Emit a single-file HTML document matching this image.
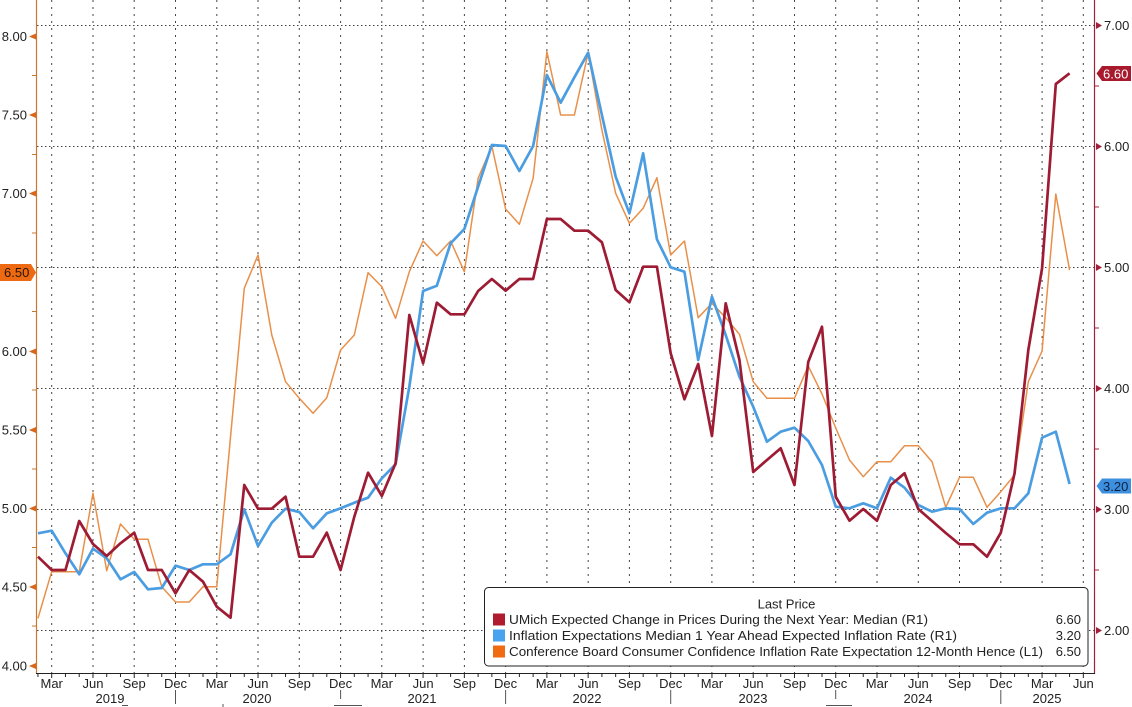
<!DOCTYPE html>
<html><head><meta charset="utf-8"><style>
html,body{margin:0;padding:0;background:#fff;}
svg{display:block;font-family:"Liberation Sans",sans-serif;}
</style></head><body>
<svg width="1132" height="707" viewBox="0 0 1132 707" xmlns="http://www.w3.org/2000/svg">
<rect width="1132" height="707" fill="#fff"/>
<!-- horizontal gridlines -->
<g stroke="#444" stroke-width="1" stroke-dasharray="1.5,2.5">
<line x1="37" y1="25.5" x2="1094" y2="25.5"/>
<line x1="37" y1="146.5" x2="1094" y2="146.5"/>
<line x1="37" y1="267.5" x2="1094" y2="267.5"/>
<line x1="37" y1="388.5" x2="1094" y2="388.5"/>
<line x1="37" y1="509.5" x2="1094" y2="509.5"/>
<line x1="37" y1="630.5" x2="1094" y2="630.5"/>
</g>
<!-- vertical gridlines -->
<g stroke="#444" stroke-width="1" stroke-dasharray="2,5">
<line x1="51.7" y1="0" x2="51.7" y2="673"/>
<line x1="93" y1="0" x2="93" y2="673"/>
<line x1="134.2" y1="0" x2="134.2" y2="673"/>
<line x1="175.5" y1="0" x2="175.5" y2="673"/>
<line x1="216.8" y1="0" x2="216.8" y2="673"/>
<line x1="258" y1="0" x2="258" y2="673"/>
<line x1="299.3" y1="0" x2="299.3" y2="673"/>
<line x1="340.6" y1="0" x2="340.6" y2="673"/>
<line x1="381.8" y1="0" x2="381.8" y2="673"/>
<line x1="423.1" y1="0" x2="423.1" y2="673"/>
<line x1="464.4" y1="0" x2="464.4" y2="673"/>
<line x1="505.6" y1="0" x2="505.6" y2="673"/>
<line x1="546.9" y1="0" x2="546.9" y2="673"/>
<line x1="588.2" y1="0" x2="588.2" y2="673"/>
<line x1="629.4" y1="0" x2="629.4" y2="673"/>
<line x1="670.7" y1="0" x2="670.7" y2="673"/>
<line x1="711.9" y1="0" x2="711.9" y2="673"/>
<line x1="753.2" y1="0" x2="753.2" y2="673"/>
<line x1="794.5" y1="0" x2="794.5" y2="673"/>
<line x1="835.7" y1="0" x2="835.7" y2="673"/>
<line x1="877" y1="0" x2="877" y2="673"/>
<line x1="918.3" y1="0" x2="918.3" y2="673"/>
<line x1="959.5" y1="0" x2="959.5" y2="673"/>
<line x1="1000.8" y1="0" x2="1000.8" y2="673"/>
<line x1="1042.1" y1="0" x2="1042.1" y2="673"/>
<line x1="1083.3" y1="0" x2="1083.3" y2="673"/>
</g>
<!-- series -->
<polyline fill="none" stroke="#e8904a" stroke-width="1.5" stroke-linejoin="round" points="37.95,618.3 51.7,571.7 65.46,571.7 79.21,571.7 92.97,493.3 106.72,570.7 120.48,524 134.23,539.3 147.99,539.3 161.74,586.7 175.5,602 189.25,602 203.01,586.7 216.76,586.7 230.52,437 244.27,288.3 258.03,255 271.78,335 285.54,381.7 299.29,398.3 313.05,413.3 326.8,397.7 340.56,350 354.31,335 368.07,272.7 381.82,286.7 395.58,318.3 409.33,271.7 423.09,241 436.84,255.7 450.6,241 464.35,271.7 478.11,178.3 491.86,146 505.62,209 519.37,224.3 533.13,178.3 546.88,51.7 560.64,115 574.39,115 588.15,52.7 601.9,130 615.66,193.3 629.41,223.3 643.17,208.3 656.92,177.7 670.68,255 684.43,241 698.19,317.7 711.94,303.3 725.7,317.7 739.45,334.3 753.21,381.7 766.96,398.3 780.72,398.3 794.47,398.3 808.23,366 821.98,394 835.74,428 849.49,460 863.25,476.7 877,461.7 890.76,461.7 904.51,445.7 918.27,445.7 932.02,461.7 945.78,507.3 959.53,477.3 973.29,477.3 987.04,507.3 1000.8,491.7 1014.55,475 1028.31,381.7 1042.06,351 1055.82,194 1069.57,270"/>
<polyline fill="none" stroke="#4b9de2" stroke-width="2.7" stroke-linejoin="round" points="37.95,533.3 51.7,530.7 65.46,553.3 79.21,574.3 92.97,548.7 106.72,558.3 120.48,579.3 134.23,572 147.99,589.3 161.74,588 175.5,565.7 189.25,570 203.01,564.3 216.76,564.3 230.52,554.3 244.27,509.3 258.03,546 271.78,522.7 285.54,508.7 299.29,512 313.05,528.3 326.8,513.3 340.56,508.3 354.31,502.7 368.07,497.7 381.82,478.3 395.58,464.3 409.33,386.7 423.09,291 436.84,285.7 450.6,243.3 464.35,229 478.11,186.7 491.86,145 505.62,146 519.37,171 533.13,146 546.88,75 560.64,102.7 574.39,77.3 588.15,52.7 601.9,115 615.66,176.7 629.41,213.3 643.17,153.3 656.92,239.3 670.68,267.3 684.43,271.7 698.19,360 711.94,296.7 725.7,335 739.45,376.7 753.21,406.7 766.96,441.7 780.72,431.7 794.47,427.7 808.23,441 821.98,465 835.74,506.7 849.49,508.3 863.25,503.3 877,508.3 890.76,477.7 904.51,487.7 918.27,505 932.02,511.7 945.78,508.3 959.53,509 973.29,524 987.04,512.7 1000.8,508.3 1014.55,508.3 1028.31,493.3 1042.06,437.7 1055.82,431.7 1069.57,484"/>
<polyline fill="none" stroke="#9e1b34" stroke-width="2.7" stroke-linejoin="round" points="37.95,556.7 51.7,570 65.46,570 79.21,521 92.97,544 106.72,556 120.48,543.3 134.23,532.7 147.99,570 161.74,570 175.5,593.3 189.25,570 203.01,581.7 216.76,606.7 230.52,617.7 244.27,485 258.03,508.7 271.78,508.7 285.54,496.7 299.29,556.7 313.05,556.7 326.8,532.7 340.56,570 354.31,516.7 368.07,472.7 381.82,496 395.58,463.3 409.33,315 423.09,363.3 436.84,302.7 450.6,314.3 464.35,314.3 478.11,291 491.86,279 505.62,290.7 519.37,279 533.13,279 546.88,219 560.64,219 574.39,230.7 588.15,230.7 601.9,242.3 615.66,290 629.41,302.3 643.17,266.7 656.92,266.7 670.68,353.3 684.43,399.3 698.19,364 711.94,436 725.7,303.3 739.45,360 753.21,472 766.96,460 780.72,448.3 794.47,485 808.23,362 821.98,326.7 835.74,496.7 849.49,520.7 863.25,509 877,520.7 890.76,485 904.51,473.3 918.27,509 932.02,521 945.78,533 959.53,544.3 973.29,544.3 987.04,556.7 1000.8,532.7 1014.55,473.3 1028.31,350 1042.06,268.3 1055.82,84 1069.57,73.3"/>
<!-- legend -->
<rect x="484.5" y="587.5" width="603.5" height="78.5" rx="4" ry="4" fill="#fff" stroke="#222" stroke-width="1"/>
<text x="786.5" y="608.5" font-size="13" fill="#222" text-anchor="middle">Last Price</text>
<rect x="493" y="613.5" width="12" height="12" fill="#b01c2e"/>
<rect x="493" y="629.5" width="12" height="12" fill="#4aa3ef"/>
<rect x="493" y="645.5" width="12" height="12" fill="#f06a12"/>
<g font-size="13" fill="#222" style="white-space:pre">
<text x="509" y="624" textLength="419" lengthAdjust="spacingAndGlyphs">UMich Expected Change in Prices During the Next Year: Median  (R1)</text>
<text x="509" y="640" textLength="448" lengthAdjust="spacingAndGlyphs">Inflation Expectations Median 1 Year Ahead Expected Inflation Rate  (R1)</text>
<text x="509" y="656" textLength="534" lengthAdjust="spacingAndGlyphs">Conference Board Consumer Confidence Inflation Rate Expectation 12-Month Hence  (L1)</text>
</g>
<g font-size="13" fill="#222" text-anchor="end">
<text x="1081" y="624">6.60</text>
<text x="1081" y="640">3.20</text>
<text x="1081" y="656">6.50</text>
</g>
<!-- left axis -->
<line x1="36.5" y1="0" x2="36.5" y2="674" stroke="#c8782f" stroke-width="1.2"/>
<g fill="#d9661a">
<polygon points="36,33.5 29,36.5 36,39.5"/>
<polygon points="36,112 29,115 36,118"/>
<polygon points="36,190.5 29,193.5 36,196.5"/>
<polygon points="36,348.5 29,351.5 36,354.5"/>
<polygon points="36,427 29,430 36,433"/>
<polygon points="36,505.5 29,508.5 36,511.5"/>
<polygon points="36,584 29,587 36,590"/>
<polygon points="36,663 29,666 36,669"/>
</g>
<g stroke="#c8782f" stroke-width="1">
<line x1="32" y1="75.5" x2="36" y2="75.5"/>
<line x1="32" y1="154.5" x2="36" y2="154.5"/>
<line x1="32" y1="233" x2="36" y2="233"/>
<line x1="32" y1="311.5" x2="36" y2="311.5"/>
<line x1="32" y1="390" x2="36" y2="390"/>
<line x1="32" y1="469" x2="36" y2="469"/>
<line x1="32" y1="547.5" x2="36" y2="547.5"/>
<line x1="32" y1="626" x2="36" y2="626"/>
</g>
<g font-size="13" fill="#222" text-anchor="end">
<text x="27" y="41">8.00</text>
<text x="27" y="119.5">7.50</text>
<text x="27" y="198">7.00</text>
<text x="27" y="356">6.00</text>
<text x="27" y="434.5">5.50</text>
<text x="27" y="513">5.00</text>
<text x="27" y="591.5">4.50</text>
<text x="27" y="670.5">4.00</text>
</g>
<polygon points="0,264 31,264 36,272.5 31,281 0,281" fill="#ee6a12"/>
<text x="4" y="277" font-size="13" fill="#2a1505">6.50</text>
<!-- right axis -->
<line x1="1094.5" y1="0" x2="1094.5" y2="674" stroke="#a0203a" stroke-width="1.2"/>
<g fill="#a0203a">
<polygon points="1096,22 1102,25.5 1096,29"/>
<polygon points="1096,143 1102,146.5 1096,150"/>
<polygon points="1096,264 1102,267.5 1096,271"/>
<polygon points="1096,385 1102,388.5 1096,392"/>
<polygon points="1096,506 1102,509.5 1096,513"/>
<polygon points="1096,627 1102,630.5 1096,634"/>
</g>
<g stroke="#a0203a" stroke-width="1">
<line x1="1094" y1="86" x2="1099" y2="86"/>
<line x1="1094" y1="207" x2="1099" y2="207"/>
<line x1="1094" y1="328" x2="1099" y2="328"/>
<line x1="1094" y1="449" x2="1099" y2="449"/>
<line x1="1094" y1="570" x2="1099" y2="570"/>
</g>
<g font-size="13" fill="#222">
<text x="1104" y="30">7.00</text>
<text x="1104" y="151">6.00</text>
<text x="1104" y="272">5.00</text>
<text x="1104" y="393">4.00</text>
<text x="1104" y="514">3.00</text>
<text x="1104" y="635">2.00</text>
</g>
<polygon points="1096.5,73.5 1102,66 1131,66 1131,81 1102,81" fill="#a8192e"/>
<text x="1103" y="78.5" font-size="13" fill="#fff">6.60</text>
<polygon points="1096.5,486 1102,478.5 1131,478.5 1131,493.5 1102,493.5" fill="#3d8fe0"/>
<text x="1103" y="491" font-size="13" fill="#10203a">3.20</text>
<!-- x axis -->
<line x1="36" y1="673.5" x2="1095" y2="673.5" stroke="#222" stroke-width="1"/>
<g stroke="#222" stroke-width="1">
<line x1="37.95" y1="674" x2="37.95" y2="677"/><line x1="51.7" y1="674" x2="51.7" y2="678"/><line x1="65.46" y1="674" x2="65.46" y2="677"/><line x1="79.21" y1="674" x2="79.21" y2="677"/><line x1="92.97" y1="674" x2="92.97" y2="678"/><line x1="106.72" y1="674" x2="106.72" y2="677"/><line x1="120.48" y1="674" x2="120.48" y2="677"/><line x1="134.23" y1="674" x2="134.23" y2="678"/><line x1="147.99" y1="674" x2="147.99" y2="677"/><line x1="161.74" y1="674" x2="161.74" y2="677"/><line x1="175.5" y1="674" x2="175.5" y2="678"/><line x1="189.25" y1="674" x2="189.25" y2="677"/><line x1="203.01" y1="674" x2="203.01" y2="677"/><line x1="216.76" y1="674" x2="216.76" y2="678"/><line x1="230.52" y1="674" x2="230.52" y2="677"/><line x1="244.27" y1="674" x2="244.27" y2="677"/><line x1="258.03" y1="674" x2="258.03" y2="678"/><line x1="271.78" y1="674" x2="271.78" y2="677"/><line x1="285.54" y1="674" x2="285.54" y2="677"/><line x1="299.29" y1="674" x2="299.29" y2="678"/><line x1="313.05" y1="674" x2="313.05" y2="677"/><line x1="326.8" y1="674" x2="326.8" y2="677"/><line x1="340.56" y1="674" x2="340.56" y2="678"/><line x1="354.31" y1="674" x2="354.31" y2="677"/><line x1="368.07" y1="674" x2="368.07" y2="677"/><line x1="381.82" y1="674" x2="381.82" y2="678"/><line x1="395.58" y1="674" x2="395.58" y2="677"/><line x1="409.33" y1="674" x2="409.33" y2="677"/><line x1="423.09" y1="674" x2="423.09" y2="678"/><line x1="436.84" y1="674" x2="436.84" y2="677"/><line x1="450.6" y1="674" x2="450.6" y2="677"/><line x1="464.35" y1="674" x2="464.35" y2="678"/><line x1="478.11" y1="674" x2="478.11" y2="677"/><line x1="491.86" y1="674" x2="491.86" y2="677"/><line x1="505.62" y1="674" x2="505.62" y2="678"/><line x1="519.37" y1="674" x2="519.37" y2="677"/><line x1="533.13" y1="674" x2="533.13" y2="677"/><line x1="546.88" y1="674" x2="546.88" y2="678"/><line x1="560.64" y1="674" x2="560.64" y2="677"/><line x1="574.39" y1="674" x2="574.39" y2="677"/><line x1="588.15" y1="674" x2="588.15" y2="678"/><line x1="601.9" y1="674" x2="601.9" y2="677"/><line x1="615.66" y1="674" x2="615.66" y2="677"/><line x1="629.41" y1="674" x2="629.41" y2="678"/><line x1="643.17" y1="674" x2="643.17" y2="677"/><line x1="656.92" y1="674" x2="656.92" y2="677"/><line x1="670.68" y1="674" x2="670.68" y2="678"/><line x1="684.43" y1="674" x2="684.43" y2="677"/><line x1="698.19" y1="674" x2="698.19" y2="677"/><line x1="711.94" y1="674" x2="711.94" y2="678"/><line x1="725.7" y1="674" x2="725.7" y2="677"/><line x1="739.45" y1="674" x2="739.45" y2="677"/><line x1="753.21" y1="674" x2="753.21" y2="678"/><line x1="766.96" y1="674" x2="766.96" y2="677"/><line x1="780.72" y1="674" x2="780.72" y2="677"/><line x1="794.47" y1="674" x2="794.47" y2="678"/><line x1="808.23" y1="674" x2="808.23" y2="677"/><line x1="821.98" y1="674" x2="821.98" y2="677"/><line x1="835.74" y1="674" x2="835.74" y2="678"/><line x1="849.49" y1="674" x2="849.49" y2="677"/><line x1="863.25" y1="674" x2="863.25" y2="677"/><line x1="877" y1="674" x2="877" y2="678"/><line x1="890.76" y1="674" x2="890.76" y2="677"/><line x1="904.51" y1="674" x2="904.51" y2="677"/><line x1="918.27" y1="674" x2="918.27" y2="678"/><line x1="932.02" y1="674" x2="932.02" y2="677"/><line x1="945.78" y1="674" x2="945.78" y2="677"/><line x1="959.53" y1="674" x2="959.53" y2="678"/><line x1="973.29" y1="674" x2="973.29" y2="677"/><line x1="987.04" y1="674" x2="987.04" y2="677"/><line x1="1000.8" y1="674" x2="1000.8" y2="678"/><line x1="1014.55" y1="674" x2="1014.55" y2="677"/><line x1="1028.31" y1="674" x2="1028.31" y2="677"/><line x1="1042.06" y1="674" x2="1042.06" y2="678"/><line x1="1055.82" y1="674" x2="1055.82" y2="677"/><line x1="1069.57" y1="674" x2="1069.57" y2="677"/><line x1="1083.33" y1="674" x2="1083.33" y2="678"/>
</g>
<g font-size="13" fill="#222" text-anchor="middle">
<text x="51.7" y="688">Mar</text><text x="93" y="688">Jun</text><text x="134.2" y="688">Sep</text><text x="175.5" y="688">Dec</text>
<text x="216.8" y="688">Mar</text><text x="258" y="688">Jun</text><text x="299.3" y="688">Sep</text><text x="340.6" y="688">Dec</text>
<text x="381.8" y="688">Mar</text><text x="423.1" y="688">Jun</text><text x="464.4" y="688">Sep</text><text x="505.6" y="688">Dec</text>
<text x="546.9" y="688">Mar</text><text x="588.2" y="688">Jun</text><text x="629.4" y="688">Sep</text><text x="670.7" y="688">Dec</text>
<text x="711.9" y="688">Mar</text><text x="753.2" y="688">Jun</text><text x="794.5" y="688">Sep</text><text x="835.7" y="688">Dec</text>
<text x="877" y="688">Mar</text><text x="918.3" y="688">Jun</text><text x="959.5" y="688">Sep</text><text x="1000.8" y="688">Dec</text>
<text x="1042.1" y="688">Mar</text><text x="1083.3" y="688">Jun</text>
<text x="110" y="703">2019</text>
<text x="257" y="703">2020</text>
<text x="422" y="703">2021</text>
<text x="587" y="703">2022</text>
<text x="753" y="703">2023</text>
<text x="918" y="703">2024</text>
<text x="1047" y="703">2025</text>
</g>
<g stroke="#555" stroke-width="1">
<line x1="175.5" y1="690" x2="175.5" y2="704"/>
<line x1="340.6" y1="690" x2="340.6" y2="699"/>
<line x1="505.6" y1="690" x2="505.6" y2="704"/>
<line x1="670.7" y1="690" x2="670.7" y2="704"/>
<line x1="835.7" y1="690" x2="835.7" y2="699"/>
<line x1="1000.8" y1="690" x2="1000.8" y2="704"/>
<line x1="223" y1="704" x2="223" y2="707"/>
<line x1="334" y1="705.5" x2="362" y2="705.5"/>
<line x1="826" y1="705.5" x2="852" y2="705.5"/>
<line x1="122" y1="705.5" x2="128" y2="705.5"/>
</g>
</svg>
</body></html>
